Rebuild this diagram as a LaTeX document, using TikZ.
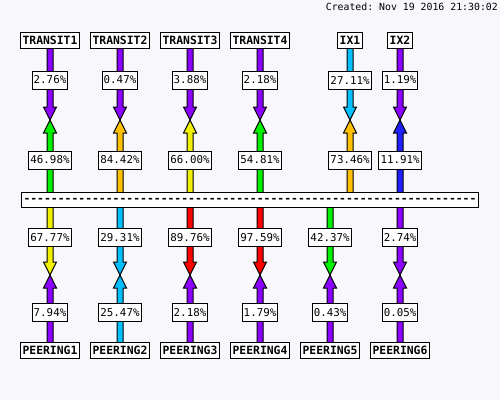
\documentclass[tikz,border=0pt]{standalone}
\usepackage{fontspec}
\setmonofont{DejaVu Sans Mono}
\usepackage{xcolor}
\usetikzlibrary{calc}
\pgfdeclarelayer{back}
\pgfdeclarelayer{links}
\pgfsetlayers{back,links,main}
\definecolor{mapbg}{RGB}{248,248,252}
\definecolor{wpurple}{RGB}{140,0,255}
\definecolor{wblue}{RGB}{32,32,255}
\definecolor{wcyan}{RGB}{0,192,255}
\definecolor{wgreen}{RGB}{0,240,0}
\definecolor{wyellow}{RGB}{240,240,0}
\definecolor{worange}{RGB}{255,192,0}
\definecolor{wred}{RGB}{255,0,0}
\tikzset{
  mapnode/.style={draw=black, line width=1pt, fill=white, inner xsep=2.5pt, inner ysep=0pt,
    minimum height=16pt, font=\ttfamily\bfseries\fontsize{11.4}{12}\selectfont},
  hubnode/.style={mapnode, minimum width=457pt, minimum height=15.5pt},
  pct/.style={draw=black, line width=1pt, fill=white, inner xsep=1.5pt, inner ysep=0pt,
    minimum height=18pt, font=\ttfamily\fontsize{10.8}{12}\selectfont},
  stamp/.style={font=\ttfamily\fontsize{9.85}{11}\selectfont, inner sep=0pt},
  linkarr/.style={draw=black, line width=1pt, line join=miter}
}
% half link: from #1 to tip #2, colour #3, load #4
\newcommand\wlink[4]{%
  \begin{pgfonlayer}{links}
    \path (#2) coordinate (tip) ($(#2)!13pt!(#1)$) coordinate (base);
    \filldraw[linkarr, fill=#3] ($(#1)!3pt!90:(tip)$) -- ($(base)!3pt!90:(tip)$)
      -- ($(base)!6.5pt!90:(tip)$) -- (tip) -- ($(base)!6.5pt!-90:(tip)$)
      -- ($(base)!3pt!-90:(tip)$) -- ($(#1)!3pt!-90:(tip)$) -- cycle;
  \end{pgfonlayer}
  \node[pct] at ($(#1)!.5!(#2)$) {#4};
}

\begin{document}
\begin{tikzpicture}[x=1pt, y=-1pt]
  \begin{pgfonlayer}{back}
    \fill[mapbg] (0,0) rectangle (500,400);
  \end{pgfonlayer}

  \node[stamp, anchor=base east] (created) at (498,10) {Created: Nov 19 2016 21:30:02};

  \node[hubnode] (hub) at (250,200) {------------------------------------------------------------------};

  \node[mapnode] (t1) at (50,40) {TRANSIT1};
  \node[mapnode] (t2) at (120,40) {TRANSIT2};
  \node[mapnode] (t3) at (190,40) {TRANSIT3};
  \node[mapnode] (t4) at (260,40) {TRANSIT4};
  \node[mapnode] (ix1) at (350,40) {IX1};
  \node[mapnode] (ix2) at (400,40) {IX2};

  \node[mapnode] (p1) at (50,350) {PEERING1};
  \node[mapnode] (p2) at (120,350) {PEERING2};
  \node[mapnode] (p3) at (190,350) {PEERING3};
  \node[mapnode] (p4) at (260,350) {PEERING4};
  \node[mapnode] (p5) at (330,350) {PEERING5};
  \node[mapnode] (p6) at (400,350) {PEERING6};

  % upstream links
  \coordinate (ht1) at (t1 |- hub);   \coordinate (mt1) at ($(t1)!.5!(ht1)$);
  \coordinate (ht2) at (t2 |- hub);   \coordinate (mt2) at ($(t2)!.5!(ht2)$);
  \coordinate (ht3) at (t3 |- hub);   \coordinate (mt3) at ($(t3)!.5!(ht3)$);
  \coordinate (ht4) at (t4 |- hub);   \coordinate (mt4) at ($(t4)!.5!(ht4)$);
  \coordinate (hix1) at (ix1 |- hub); \coordinate (mix1) at ($(ix1)!.5!(hix1)$);
  \coordinate (hix2) at (ix2 |- hub); \coordinate (mix2) at ($(ix2)!.5!(hix2)$);

  \wlink{t1.center}{mt1}{wpurple}{2.76\%}   \wlink{ht1}{mt1}{wgreen}{46.98\%}
  \wlink{t2.center}{mt2}{wpurple}{0.47\%}   \wlink{ht2}{mt2}{worange}{84.42\%}
  \wlink{t3.center}{mt3}{wpurple}{3.88\%}   \wlink{ht3}{mt3}{wyellow}{66.00\%}
  \wlink{t4.center}{mt4}{wpurple}{2.18\%}   \wlink{ht4}{mt4}{wgreen}{54.81\%}
  \wlink{ix1.center}{mix1}{wcyan}{27.11\%}  \wlink{hix1}{mix1}{worange}{73.46\%}
  \wlink{ix2.center}{mix2}{wpurple}{1.19\%} \wlink{hix2}{mix2}{wblue}{11.91\%}

  % peering links
  \coordinate (hp1) at (p1 |- hub); \coordinate (mp1) at ($(p1)!.5!(hp1)$);
  \coordinate (hp2) at (p2 |- hub); \coordinate (mp2) at ($(p2)!.5!(hp2)$);
  \coordinate (hp3) at (p3 |- hub); \coordinate (mp3) at ($(p3)!.5!(hp3)$);
  \coordinate (hp4) at (p4 |- hub); \coordinate (mp4) at ($(p4)!.5!(hp4)$);
  \coordinate (hp5) at (p5 |- hub); \coordinate (mp5) at ($(p5)!.5!(hp5)$);
  \coordinate (hp6) at (p6 |- hub); \coordinate (mp6) at ($(p6)!.5!(hp6)$);

  \wlink{hp1}{mp1}{wyellow}{67.77\%} \wlink{p1.center}{mp1}{wpurple}{7.94\%}
  \wlink{hp2}{mp2}{wcyan}{29.31\%}   \wlink{p2.center}{mp2}{wcyan}{25.47\%}
  \wlink{hp3}{mp3}{wred}{89.76\%}    \wlink{p3.center}{mp3}{wpurple}{2.18\%}
  \wlink{hp4}{mp4}{wred}{97.59\%}    \wlink{p4.center}{mp4}{wpurple}{1.79\%}
  \wlink{hp5}{mp5}{wgreen}{42.37\%}  \wlink{p5.center}{mp5}{wpurple}{0.43\%}
  \wlink{hp6}{mp6}{wpurple}{2.74\%}  \wlink{p6.center}{mp6}{wpurple}{0.05\%}
\end{tikzpicture}
\end{document}
